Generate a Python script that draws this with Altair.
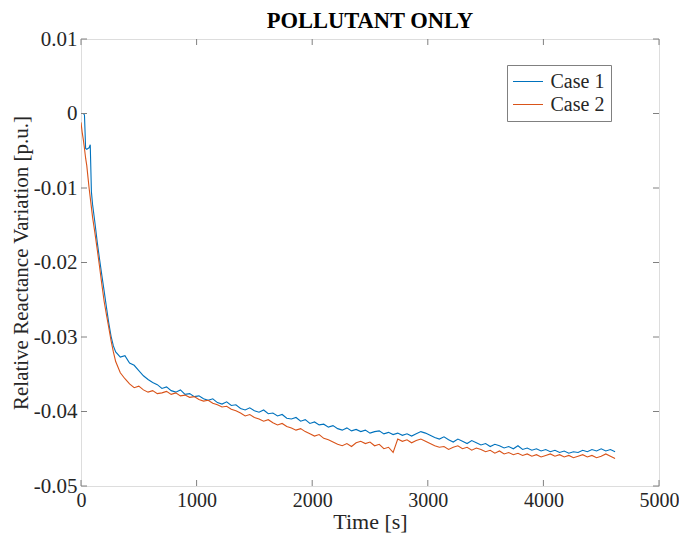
import altair as alt
import pandas as pd

title_text = "POLLUTANT ONLY"
x_title = "Time [s]"
y_title = "Relative Reactance Variation [p.u.]"
series_names = ["Case 1", "Case 2"]
series_colors = ["#0072BD", "#D95319"]

x_ticks = [0, 1000, 2000, 3000, 4000, 5000]
y_ticks = [0.01, 0, -0.01, -0.02, -0.03, -0.04, -0.05]

early_time = [0, 10, 20, 30, 40, 50, 60, 70, 80, 90, 100, 120, 140, 160, 180,
              200, 220, 240, 260, 280, 300]
late_time = list(range(340, 4621, 40))

case1_early = [0.0000, 0.0000, 0.0000, -0.0002, -0.0047, -0.0048, -0.0047,
               -0.0046, -0.0042, -0.0105, -0.0122, -0.0146, -0.0172, -0.0195,
               -0.0217, -0.0238, -0.0260, -0.0281, -0.0299, -0.0312, -0.0320]
case1_late = [
    -0.0327, -0.0325, -0.0335, -0.0338, -0.0345, -0.0352, -0.0357, -0.0361, -0.0364, -0.0369,
    -0.0367, -0.0372, -0.0374, -0.0371, -0.0377, -0.0376, -0.0380, -0.0379, -0.0383, -0.0385,
    -0.0383, -0.0388, -0.0390, -0.0387, -0.0392, -0.0391, -0.0396, -0.0398, -0.0395, -0.0399,
    -0.0401, -0.0398, -0.0403, -0.0402, -0.0406, -0.0404, -0.0409, -0.0410, -0.0408, -0.0413,
    -0.0411, -0.0416, -0.0414, -0.0418, -0.0417, -0.0421, -0.0419, -0.0423, -0.0425, -0.0422,
    -0.0426, -0.0424, -0.0427, -0.0425, -0.0429, -0.0427, -0.0426, -0.0430, -0.0428, -0.0431,
    -0.0429, -0.0432, -0.0430, -0.0433, -0.0430, -0.0427, -0.0429, -0.0432, -0.0435, -0.0437,
    -0.0434, -0.0438, -0.0441, -0.0437, -0.0440, -0.0443, -0.0439, -0.0442, -0.0445, -0.0443,
    -0.0447, -0.0444, -0.0446, -0.0449, -0.0447, -0.0450, -0.0446, -0.0451, -0.0449, -0.0452,
    -0.0450, -0.0453, -0.0451, -0.0454, -0.0452, -0.0455, -0.0453, -0.0456, -0.0454, -0.0455,
    -0.0452, -0.0454, -0.0451, -0.0453, -0.0450, -0.0453, -0.0451, -0.0454,
]

case2_early = [-0.0012, -0.0025, -0.0035, -0.0047, -0.0060, -0.0070, -0.0085,
               -0.0100, -0.0113, -0.0126, -0.0139, -0.0160, -0.0182, -0.0205,
               -0.0229, -0.0252, -0.0270, -0.0287, -0.0305, -0.0320, -0.0333]
case2_late = [
    -0.0348, -0.0356, -0.0363, -0.0368, -0.0366, -0.0371, -0.0374, -0.0372, -0.0376, -0.0375,
    -0.0373, -0.0377, -0.0375, -0.0379, -0.0378, -0.0381, -0.0380, -0.0384, -0.0386, -0.0385,
    -0.0389, -0.0391, -0.0394, -0.0393, -0.0397, -0.0399, -0.0402, -0.0406, -0.0404, -0.0408,
    -0.0410, -0.0413, -0.0411, -0.0415, -0.0418, -0.0416, -0.0420, -0.0422, -0.0425, -0.0423,
    -0.0427, -0.0430, -0.0433, -0.0431, -0.0436, -0.0438, -0.0441, -0.0444, -0.0446, -0.0443,
    -0.0447, -0.0442, -0.0440, -0.0443, -0.0441, -0.0446, -0.0444, -0.0450, -0.0448, -0.0455,
    -0.0437, -0.0440, -0.0438, -0.0442, -0.0439, -0.0437, -0.0440, -0.0443, -0.0446, -0.0448,
    -0.0447, -0.0451, -0.0448, -0.0446, -0.0450, -0.0448, -0.0452, -0.0449, -0.0451, -0.0454,
    -0.0452, -0.0456, -0.0453, -0.0457, -0.0455, -0.0458, -0.0456, -0.0459, -0.0457, -0.0460,
    -0.0458, -0.0461, -0.0459, -0.0457, -0.0460, -0.0458, -0.0461, -0.0459, -0.0462, -0.0460,
    -0.0458, -0.0461, -0.0459, -0.0462, -0.0460, -0.0457, -0.0460, -0.0463,
]

time_all = early_time + late_time
rows = []
for name, vals in zip(series_names, [case1_early + case1_late, case2_early + case2_late]):
    for t, v in zip(time_all, vals):
        rows.append({"time": t, "value": v, "series": name})
df = pd.DataFrame(rows)

W, H = 578, 447
FONT = "Liberation Serif"
FRAME = "#808080"
TEXT = "#262626"
TICK_LEN = 6

x_scale = alt.Scale(domain=[0, 5000], nice=False, zero=False)
y_scale = alt.Scale(domain=[-0.05, 0.01], nice=False, zero=False)

x_axis = alt.Axis(values=x_ticks, format="d", ticks=False, domain=False, grid=False,
                  labelFont=FONT, labelFontSize=20, labelColor=TEXT, labelPadding=4,
                  labelOverlap=False, labelFlush=False,
                  title=x_title, titleFont=FONT, titleFontSize=22,
                  titleFontWeight="normal", titleColor=TEXT, titlePadding=1)
y_axis = alt.Axis(values=y_ticks, labelExpr="datum.value == 0 ? '0' : '' + datum.value",
                  ticks=False, domain=False, grid=False,
                  labelFont=FONT, labelFontSize=21, labelColor=TEXT, labelPadding=4,
                  labelOverlap=False, labelFlush=False,
                  title=y_title, titleFont=FONT, titleFontSize=21,
                  titleFontWeight="normal", titleColor=TEXT, titlePadding=2)

lines = alt.Chart(df).mark_line(strokeWidth=1.1, clip=True).encode(
    x=alt.X("time:Q", scale=x_scale, axis=x_axis, title=x_title),
    y=alt.Y("value:Q", scale=y_scale, axis=y_axis, title=y_title),
    color=alt.Color("series:N", scale=alt.Scale(domain=series_names, range=series_colors),
                    legend=alt.Legend(title=None, orient="none", legendX=426, legendY=26,
                                      symbolType="M-1.5,0H1.5", symbolSize=400,
                                      symbolStrokeWidth=1, symbolOffset=4.5,
                                      labelFont=FONT, labelFontSize=20, labelColor=TEXT,
                                      labelOffset=12, rowPadding=2, padding=6,
                                      strokeColor=FRAME, fillColor="white")),
)

xt_df = pd.DataFrame({"time": x_ticks})
yt_df = pd.DataFrame({"value": y_ticks})

x_bottom = alt.Chart(xt_df).mark_rule(color=FRAME, strokeWidth=1).encode(
    x=alt.X("time:Q", scale=x_scale, title=x_title),
    y=alt.value(H), y2=alt.value(H - TICK_LEN))
x_top = alt.Chart(xt_df).mark_rule(color=FRAME, strokeWidth=1).encode(
    x=alt.X("time:Q", scale=x_scale, title=x_title),
    y=alt.value(0), y2=alt.value(TICK_LEN))
y_left = alt.Chart(yt_df).mark_rule(color=FRAME, strokeWidth=1).encode(
    y=alt.Y("value:Q", scale=y_scale, title=y_title),
    x=alt.value(0), x2=alt.value(TICK_LEN))
y_right = alt.Chart(yt_df).mark_rule(color=FRAME, strokeWidth=1).encode(
    y=alt.Y("value:Q", scale=y_scale, title=y_title),
    x=alt.value(W), x2=alt.value(W - TICK_LEN))

chart = alt.layer(lines, x_bottom, x_top, y_left, y_right).properties(
    width=W, height=H,
    title=alt.TitleParams(title_text, font=FONT, fontSize=22.5, fontWeight="bold",
                          color="black", anchor="middle", baseline="alphabetic",
                          frame="group", offset=11, dy=33),
    padding={"left": 73, "top": 31, "right": 20, "bottom": 47},
    autosize=alt.AutoSizeParams(type="none"),
).configure_view(stroke=FRAME, strokeWidth=1).configure(background="white")

chart.save("out.html", embed_options={"renderer": "svg", "actions": False})
